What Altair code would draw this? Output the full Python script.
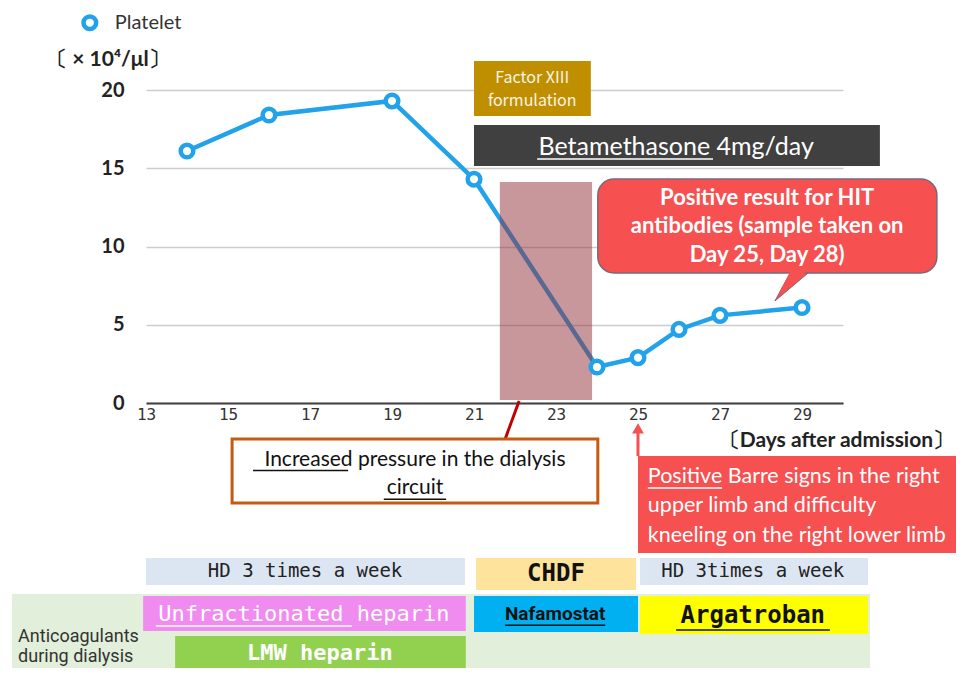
import altair as alt
import pandas as pd

# ---------------- data ----------------
days = [14, 16, 19, 21, 24, 25, 26, 27, 29]
platelet = [16.1, 18.4, 19.3, 14.3, 2.3, 2.9, 4.7, 5.6, 6.1]
x_ticks = [13, 15, 17, 19, 21, 23, 25, 27, 29]
y_ticks = [0, 5, 10, 15, 20]

BLUE = "#22a2ea"
RED = "#f65050"
MONO = "DejaVu Sans Mono"
SANS = "Lato"

XS = alt.Scale(domain=[13, 30], nice=False, zero=False)
YS = alt.Scale(domain=[0, 20], nice=False, zero=False)

AX = alt.Axis(values=x_ticks, title=None, grid=False, ticks=False, domainColor="#404040",
              domainWidth=2, labelFont=MONO, labelFontSize=16, labelColor="#333333",
              labelPadding=3, labelFlush=False)
AY = alt.Axis(values=y_ticks, title=None, domain=False, ticks=False, grid=True,
              gridColor="#cccccc", gridWidth=1.5, labelFont=SANS, labelFontWeight="bold",
              labelFontSize=20, labelColor="#222222", labelPadding=22, labelFlush=False)


def xe(f="x"):
    return alt.X(f"{f}:Q", scale=XS, axis=AX)


def ye(f="y"):
    return alt.Y(f"{f}:Q", scale=YS, axis=AY)


def rects(rows, **mark):
    return alt.Chart(pd.DataFrame(rows)).mark_rect(**mark).encode(
        x=xe(), x2="x2:Q", y=ye(), y2="y2:Q",
        fill=alt.Fill("fill:N", scale=None),
    )


def texts(rows, **mark):
    m = dict(baseline="middle", align="center")
    m.update(mark)
    return alt.Chart(pd.DataFrame(rows)).mark_text(**m).encode(
        x=xe(), y=ye(), text="t:N",
        color=alt.Color("c:N", scale=None),
    )


def rules(rows, width=1.5):
    return alt.Chart(pd.DataFrame(rows)).mark_rule(strokeWidth=width).encode(
        x=xe(), x2="x2:Q", y=ye(), y2="y2:Q",
        color=alt.Color("c:N", scale=None),
    )


series = pd.DataFrame({"x": days, "y": platelet})

# ---------------- main series ----------------
line = alt.Chart(series).mark_line(color=BLUE, strokeWidth=4.5).encode(x=xe(), y=ye())

shade = rects([{"x": 21.63, "x2": 23.88, "y": 0.19, "y2": 14.12, "fill": "#923038"}],
              opacity=0.5)

points = alt.Chart(series).mark_point(
    shape="circle", filled=True, fill="white", stroke=BLUE, strokeWidth=4.5,
    size=160, opacity=1).encode(x=xe(), y=ye())

# ---------------- bottom bands ----------------
bg = rects([{"x": 9.73, "x2": 30.66, "y": -12.2, "y2": -17.6, "fill": "#e2efda"}])

bands = rects([
    {"x": 13.0, "x2": 20.78, "y": -9.9, "y2": -11.63, "fill": "#dce6f2"},
    {"x": 21.05, "x2": 24.95, "y": -9.9, "y2": -11.95, "fill": "#fde39c"},
    {"x": 25.05, "x2": 30.61, "y": -9.9, "y2": -11.63, "fill": "#dce6f2"},
    {"x": 12.93, "x2": 20.8, "y": -12.33, "y2": -14.57, "fill": "#f08cf0"},
    {"x": 21.0, "x2": 25.0, "y": -12.33, "y2": -14.63, "fill": "#00b0f0"},
    {"x": 25.05, "x2": 30.61, "y": -12.33, "y2": -14.76, "fill": "#ffff00"},
    {"x": 13.71, "x2": 20.8, "y": -14.89, "y2": -17.6, "fill": "#92d050"},
])

band_txt_mono = texts([
    {"x": 16.88, "y": -10.75, "t": "HD 3 times a week", "c": "#222222"},
    {"x": 27.8, "y": -10.75, "t": "HD 3times a week", "c": "#222222"},
], font=MONO, fontSize=19)
band_txt_unf = texts([
    {"x": 16.85, "y": -13.5, "t": "Unfractionated heparin", "c": "#ffffff"},
], font=MONO, fontSize=22)
band_txt_bold = texts([
    {"x": 23.0, "y": -10.95, "t": "CHDF", "c": "#111111"},
    {"x": 27.8, "y": -13.6, "t": "Argatroban", "c": "#111111"},
], font=MONO, fontSize=24, fontWeight="bold")
band_txt_lmw = texts([
    {"x": 17.24, "y": -15.95, "t": "LMW heparin", "c": "#ffffff"},
], font=MONO, fontSize=22, fontWeight="bold")
band_txt_naf = texts([
    {"x": 22.98, "y": -13.5, "t": "Nafamostat", "c": "#111111"},
], font="Liberation Sans Narrow, Roboto", fontSize=19, fontWeight="bold")
anti_txt = texts([
    {"x": 9.88, "y": -14.95, "t": "Anticoagulants", "c": "#333333"},
    {"x": 9.88, "y": -16.2, "t": "during dialysis", "c": "#333333"},
], font="Liberation Sans Narrow, Roboto", fontSize=18, align="left")

band_lines = rules([
    {"x": 13.24, "x2": 18.02, "y": -14.25, "y2": -14.25, "c": "#ffffff"},
    {"x": 21.76, "x2": 24.2, "y": -14.2, "y2": -14.2, "c": "#111111"},
    {"x": 25.93, "x2": 29.68, "y": -14.5, "y2": -14.5, "c": "#111111"},
])

# ---------------- legend and axis captions ----------------
legend_pt = alt.Chart(pd.DataFrame({"x": [11.63], "y": [24.3]})).mark_point(
    shape="circle", filled=True, fill="white", stroke=BLUE, strokeWidth=4.5,
    size=160, opacity=1).encode(x=xe(), y=ye())
legend_txt = texts([{"x": 12.24, "y": 24.3, "t": "Platelet", "c": "#333333"}],
                   font=SANS, fontSize=20, align="left")
unit_txt = texts([{"x": 12.07, "y": 21.92, "t": "〔 × 10⁴/μl〕", "c": "#222222"}],
                 font=SANS, fontSize=21, fontWeight="bold")
days_txt = texts([{"x": 32.71, "y": -2.45, "t": "〔Days after admission〕", "c": "#222222"}],
                 font=SANS, fontSize=21, fontWeight="bold", align="right")

# ---------------- top annotations ----------------
top_boxes = rects([
    {"x": 21.0, "x2": 23.85, "y": 18.34, "y2": 21.85, "fill": "#bf8f00"},
    {"x": 21.0, "x2": 30.9, "y": 15.14, "y2": 17.76, "fill": "#404040"},
])
factor_txt = texts([
    {"x": 22.42, "y": 20.77, "t": "Factor XIII", "c": "#f8f4e8"},
    {"x": 22.42, "y": 19.3, "t": "formulation", "c": "#f8f4e8"},
], font="Noto Sans CJK JP", fontSize=16)
beta_txt = texts([{"x": 25.93, "y": 16.35, "t": "Betamethasone 4mg/day", "c": "#ffffff"}],
                 font=SANS, fontSize=25)
beta_line = rules([{"x": 22.54, "x2": 26.83, "y": 15.59, "y2": 15.59, "c": "#ffffff"}])

# HIT callout
hit_tail = alt.Chart(pd.DataFrame({
    "y": [6.52, 8.6], "x": [28.34, 28.77], "x2": [28.34, 29.28]})).mark_area(
    orient="horizontal", color=RED, stroke="#7a6878", strokeWidth=1).encode(
    y=ye(), x=xe(), x2="x2:Q")
hit_box = rects([{"x": 24.02, "x2": 32.29, "y": 8.31, "y2": 14.31, "fill": RED}],
                cornerRadius=16, stroke="#7a6878", strokeWidth=1.5)
hit_tail_fill = alt.Chart(pd.DataFrame({
    "y": [7.0, 8.9], "x": [28.43, 28.82], "x2": [28.52, 29.32]})).mark_area(
    orient="horizontal", color=RED).encode(y=ye(), x=xe(), x2="x2:Q")
hit_txt = texts([
    {"x": 28.15, "y": 13.1, "t": "Positive result for HIT", "c": "#ffffff"},
    {"x": 28.15, "y": 11.3, "t": "antibodies (sample taken on", "c": "#ffffff"},
    {"x": 28.15, "y": 9.45, "t": "Day 25, Day 28)", "c": "#ffffff"},
], font=SANS, fontSize=22, fontWeight="bold")

# ---------------- lower annotations ----------------
press_box = rects([{"x": 15.1, "x2": 24.02, "y": -2.3, "y2": -6.39, "fill": "#ffffff"}],
                  stroke="#c55a11", strokeWidth=3)
press_link = rules([{"x": 22.1, "x2": 21.76, "y": 0.13, "y2": -2.3, "c": "#c00000"}], width=3)
press_txt = texts([
    {"x": 19.56, "y": -3.64, "t": "Increased pressure in the dialysis", "c": "#111111"},
    {"x": 19.56, "y": -5.45, "t": "circuit", "c": "#111111"},
], font=SANS, fontSize=21)
press_lines = rules([
    {"x": 15.61, "x2": 17.93, "y": -4.32, "y2": -4.32, "c": "#111111"},
    {"x": 18.8, "x2": 20.32, "y": -6.15, "y2": -6.15, "c": "#111111"},
])

barre_box = rects([{"x": 25.0, "x2": 33.2, "y": -3.39, "y2": -9.58, "fill": RED}])
barre_arrow = rules([{"x": 25.0, "x2": 25.0, "y": -3.39, "y2": -1.7, "c": RED}], width=3)
barre_head = alt.Chart(pd.DataFrame({"x": [25.0], "y": [-1.62]})).mark_point(
    shape="triangle-up", filled=True, color=RED, size=140, opacity=1).encode(x=xe(), y=ye())
barre_txt = texts([
    {"x": 25.24, "y": -4.73, "t": "Positive Barre signs in the right", "c": "#ffffff"},
    {"x": 25.24, "y": -6.58, "t": "upper limb and difficulty", "c": "#ffffff"},
    {"x": 25.24, "y": -8.5, "t": "kneeling on the right lower limb", "c": "#ffffff"},
], font=SANS, fontSize=21.5, align="left")
barre_line = rules([{"x": 25.24, "x2": 27.05, "y": -5.43, "y2": -5.43, "c": "#ffffff"}])

chart = alt.layer(
    line, bg, bands, band_lines, band_txt_mono, band_txt_unf, band_txt_bold, band_txt_lmw,
    band_txt_naf, anti_txt,
    shade, points, legend_pt, legend_txt, unit_txt, days_txt,
    top_boxes, factor_txt, beta_txt, beta_line,
    hit_tail, hit_box, hit_tail_fill, hit_txt,
    press_link, press_box, press_txt, press_lines,
    barre_box, barre_arrow, barre_head, barre_txt, barre_line,
).properties(
    width=697, height=313,
    autosize=alt.AutoSizeParams(type="none"),
    padding={"left": 138, "top": 82, "right": 113, "bottom": 265},
).configure_view(stroke=None)

chart.save("out.html", embed_options={"renderer": "svg", "actions": False})
